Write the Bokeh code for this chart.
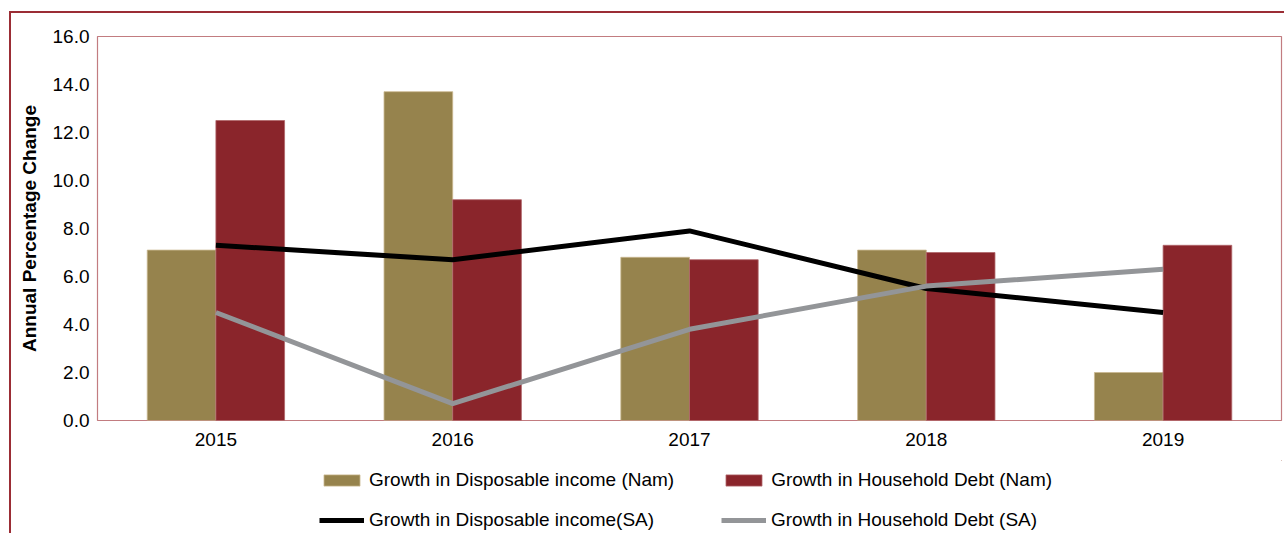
from bokeh.plotting import figure
from bokeh.layouts import column
from bokeh.models import (FactorRange, Legend, LegendItem,
                          NumeralTickFormatter, FixedTicker, Range1d)
from bokeh.transform import dodge
from bokeh.embed import file_html
from bokeh.resources import INLINE

years = ["2015", "2016", "2017", "2018", "2019"]
disp_income_nam = [7.1, 13.7, 6.8, 7.1, 2.0]
household_debt_nam = [12.5, 9.2, 6.7, 7.0, 7.3]
disp_income_sa = [7.3, 6.7, 7.9, 5.5, 4.5]
household_debt_sa = [4.5, 0.7, 3.8, 5.6, 6.3]
y_ticks = [0, 2, 4, 6, 8, 10, 12, 14, 16]
labels = ["Growth in Disposable income (Nam)", "Growth in Household Debt (Nam)",
          "Growth in Disposable income(SA)", "Growth in Household Debt (SA)"]

OLIVE = "#96834D"
RED = "#8A252B"
GRAY = "#939598"
FRAME = "#9b2d35"
FONT = "Liberation Sans"

bar1_style = dict(fill_color=OLIVE, line_color="#c9b88f", line_width=0.8)
bar2_style = dict(fill_color=RED, line_color="#b0666a", line_width=0.8)
line1_style = dict(line_color="black", line_width=5)
line2_style = dict(line_color=GRAY, line_width=5)

# ---------------- main chart ----------------
p = figure(x_range=FactorRange(factors=years), y_range=Range1d(0, 16),
           width=1284, height=460,
           min_border_left=97, min_border_top=36, min_border_right=3, min_border_bottom=40,
           output_backend="svg", toolbar_location=None)
p.border_fill_color = None
p.background_fill_color = "white"

src = dict(year=years, inc=disp_income_nam, debt=household_debt_nam)
p.vbar(x=dodge("year", -0.145, range=p.x_range), top="inc", width=0.29, source=src, **bar1_style)
p.vbar(x=dodge("year", 0.145, range=p.x_range), top="debt", width=0.29, source=src, **bar2_style)
p.line(x=years, y=disp_income_sa, **line1_style)
p.line(x=years, y=household_debt_sa, **line2_style)

p.xgrid.visible = False
p.ygrid.visible = False
p.outline_line_color = "#c27c80"
p.outline_line_width = 1.2

p.yaxis.ticker = FixedTicker(ticks=y_ticks)
p.yaxis.formatter = NumeralTickFormatter(format="0.0")
p.yaxis.axis_label = "Annual Percentage Change"
p.yaxis.axis_label_text_font = FONT
p.yaxis.axis_label_text_font_style = "bold"
p.yaxis.axis_label_text_font_size = "19px"
p.yaxis.axis_label_text_color = "black"
p.yaxis.axis_label_standoff = 10
for ax in (p.xaxis[0], p.yaxis[0]):
    ax.axis_line_color = None
    ax.major_tick_line_color = None
    ax.minor_tick_line_color = None
    ax.major_tick_out = 0
    ax.major_tick_in = 0
    ax.minor_tick_out = 0
    ax.major_label_text_font = FONT
    ax.major_label_text_font_size = "19px"
    ax.major_label_text_color = "black"
    ax.major_label_standoff = 8
p.xaxis.major_label_standoff = 12

# ---------------- legend strip ----------------
q = figure(width=1284, height=73, x_range=Range1d(0, 1), y_range=Range1d(0, 1),
           min_border=0, output_backend="svg", toolbar_location=None)
q.axis.visible = False
q.grid.visible = False
q.outline_line_color = None
q.border_fill_color = None
q.background_fill_color = None

# legend swatches (drawn outside the visible range of the strip)
g1 = q.vbar(x=[5], top=[5], bottom=[4], width=0.1, **bar1_style)
g2 = q.vbar(x=[5], top=[5], bottom=[4], width=0.1, **bar2_style)
g3 = q.line(x=[5, 6], y=[5, 5], **line1_style)
g4 = q.line(x=[5, 6], y=[5, 5], **line2_style)


def make_legend(items, loc):
    lg = Legend(items=items, location=loc, orientation="horizontal")
    lg.label_text_font = FONT
    lg.label_text_font_size = "19px"
    lg.label_text_color = "black"
    lg.glyph_width = 45
    lg.glyph_height = 14
    lg.label_standoff = 5
    lg.label_height = 22
    lg.label_width = 305
    lg.spacing = 47
    lg.padding = 0
    lg.margin = 0
    lg.border_line_color = None
    lg.background_fill_alpha = 0
    return lg


leg1 = make_legend([LegendItem(label=labels[0], renderers=[g1]),
                    LegendItem(label=labels[1], renderers=[g2])], (222, 42))
leg2 = make_legend([LegendItem(label=labels[2], renderers=[g3]),
                    LegendItem(label=labels[3], renderers=[g4])], (222, 2))
q.add_layout(leg1)
q.add_layout(leg2)

layout = column(p, q, spacing=0)
layout.styles = {
    "background": (f"linear-gradient({FRAME},{FRAME}) 9px 11px / 2px 100% no-repeat, "
                   f"linear-gradient({FRAME},{FRAME}) 9px 11px / 100% 2px no-repeat, white"),
}

open("out.html", "w").write(file_html(layout, INLINE))
